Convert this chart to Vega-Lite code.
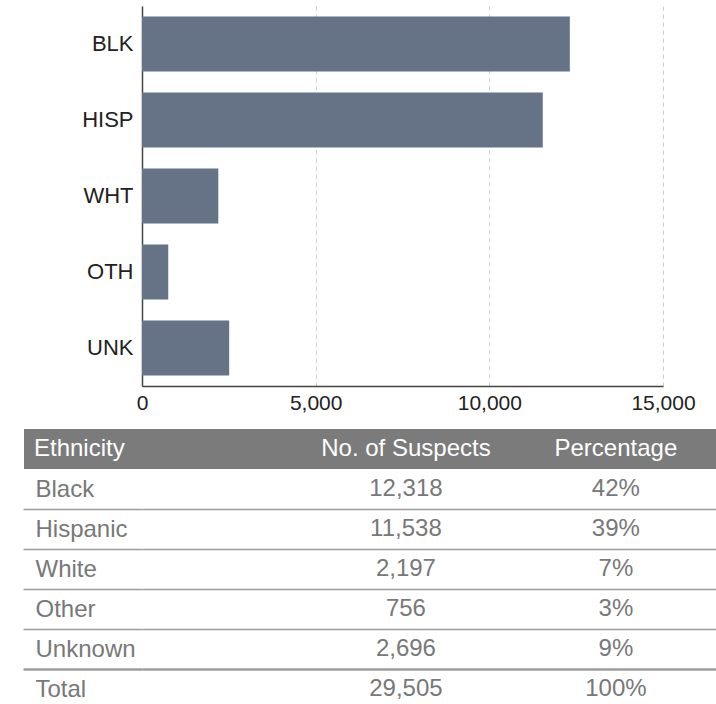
{
  "$schema": "https://vega.github.io/schema/vega-lite/v6.json",
  "padding": {"left": 4, "top": 6, "right": 0, "bottom": 0},
  "config": {"view": {"stroke": null}, "font": "Liberation Sans", "concat": {"spacing": 0}},
  "datasets": {
    "bars": [
      {"code": "BLK", "count": 12318},
      {"code": "HISP", "count": 11538},
      {"code": "WHT", "count": 2197},
      {"code": "OTH", "count": 756},
      {"code": "UNK", "count": 2510}
    ],
    "table": [
      {"Ethnicity": "Black", "Suspects": 12318, "Pct": 0.42},
      {"Ethnicity": "Hispanic", "Suspects": 11538, "Pct": 0.39},
      {"Ethnicity": "White", "Suspects": 2197, "Pct": 0.07},
      {"Ethnicity": "Other", "Suspects": 756, "Pct": 0.03},
      {"Ethnicity": "Unknown", "Suspects": 2696, "Pct": 0.09},
      {"Ethnicity": "Total", "Suspects": 29505, "Pct": 1.0}
    ],
    "columns": [
      {"col": "No. of Suspects"},
      {"col": "Percentage"}
    ]
  },
  "spacing": 16,
  "vconcat": [
    {
      "data": {"name": "bars"},
      "width": 521,
      "height": 380,
      "mark": {"type": "bar", "color": "#667387"},
      "encoding": {
        "y": {
          "field": "code", "type": "nominal", "sort": null,
          "scale": {"paddingInner": 0.276, "paddingOuter": 0.138},
          "axis": {"title": null, "ticks": false, "labelPadding": 9, "labelFontSize": 22, "labelColor": "#222222", "domainColor": "#444444", "domainWidth": 1.5, "grid": false}
        },
        "x": {
          "field": "count", "type": "quantitative",
          "scale": {"domain": [0, 15000], "nice": false},
          "axis": {"title": null, "values": [0, 5000, 10000, 15000], "format": ",d", "ticks": false, "labelPadding": 6, "labelFontSize": 21, "labelColor": "#222222", "labelFlush": false, "domainColor": "#444444", "domainWidth": 1.5, "grid": true, "gridDash": [4, 4], "gridColor": "#cccccc", "gridWidth": 1}
        }
      }
    },
    {
      "spacing": 0,
      "bounds": "flush",
      "vconcat": [
        {
          "data": {"name": "columns"},
          "width": 574,
          "height": 40,
          "layer": [
            {
              "mark": {"type": "rect", "color": "#7b7b7b"},
              "encoding": {}
            },
            {
              "mark": {"type": "text", "color": "white", "fontSize": 24},
              "encoding": {
                "x": {
                  "field": "col", "type": "nominal", "sort": null,
                  "scale": {"type": "point", "domain": ["No. of Suspects", "Percentage"], "padding": 0.867, "align": 0.725},
                  "axis": null
                },
                "y": {
                  "datum": "Ethnicity", "type": "nominal",
                  "axis": {"title": null, "domain": false, "offset": -1, "translate": 0, "ticks": true, "tickSize": 119, "tickWidth": 40, "tickColor": "#7b7b7b", "grid": false, "labelAlign": "left", "labelBaseline": "middle", "labelPadding": -10, "labelColor": "white", "labelFontSize": 24}
                },
                "text": {"field": "col"}
              }
            }
          ]
        },
        {
          "data": {"name": "table"},
          "width": 574,
          "height": 240,
          "encoding": {
            "y": {
              "field": "Ethnicity", "type": "nominal", "sort": null,
              "scale": {"type": "band", "paddingInner": 0, "paddingOuter": 0},
              "axis": {
                "title": null, "domain": false, "tickBand": "extent", "tickExtra": false, "ticks": true, "tickSize": 119,
                "tickColor": "#9c9c9c",
                "tickWidth": {"condition": {"test": "datum.value === 'Unknown'", "value": 2.5}, "value": 1.5},
                "tickOpacity": {"condition": {"test": "indexof(['Black','Hispanic','White','Other','Unknown'], datum.value) >= 0", "value": 1}, "value": 0},
                "grid": true, "gridColor": "#9c9c9c",
                "gridWidth": {"condition": {"test": "datum.value === 'Unknown'", "value": 2.5}, "value": 1.5},
                "gridOpacity": {"condition": {"test": "indexof(['Black','Hispanic','White','Other','Unknown'], datum.value) >= 0", "value": 1}, "value": 0},
                "labelAlign": "left", "labelBaseline": "middle", "labelPadding": -12, "labelColor": "#787878", "labelFontSize": 24
              }
            }
          },
          "layer": [
            {
              "mark": {"type": "text", "fontSize": 24, "color": "#787878"},
              "encoding": {
                "x": {"datum": "No. of Suspects", "type": "nominal", "scale": {"type": "point", "domain": ["No. of Suspects", "Percentage"], "padding": 0.867, "align": 0.725}, "axis": null},
                "text": {"field": "Suspects", "type": "quantitative", "format": ","}
              }
            },
            {
              "mark": {"type": "text", "fontSize": 24, "color": "#787878"},
              "encoding": {
                "x": {"datum": "Percentage", "type": "nominal"},
                "text": {"field": "Pct", "type": "quantitative", "format": ".0%"}
              }
            }
          ]
        }
      ]
    }
  ]
}
